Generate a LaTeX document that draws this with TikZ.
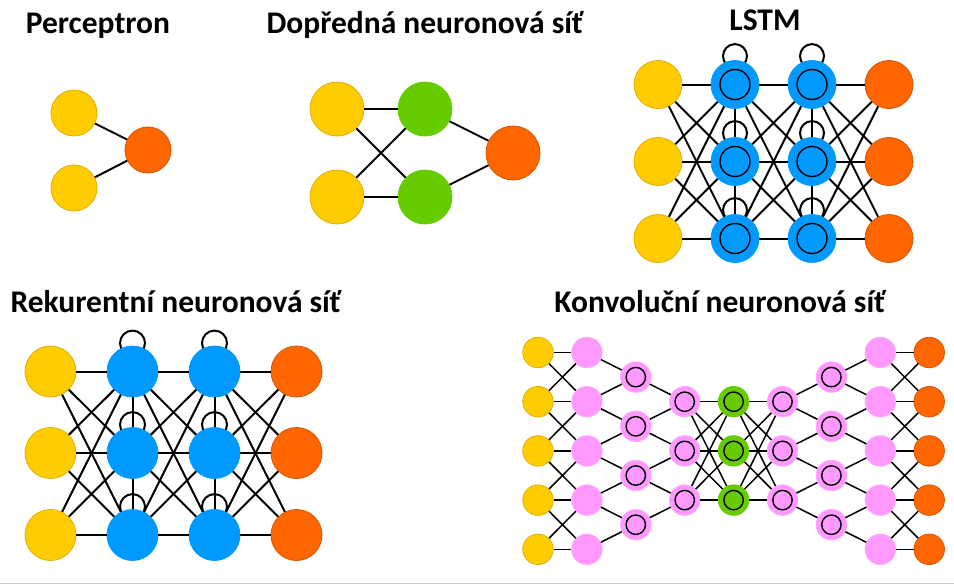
\documentclass[tikz,border=0pt]{standalone}
\usepackage{fontspec}
\setmainfont{Carlito}
\usepackage{tikz}
\usetikzlibrary{backgrounds}

\definecolor{inyellow}{HTML}{FFCC00}
\definecolor{inyellowd}{HTML}{DDB000}
\definecolor{outorange}{HTML}{FF6600}
\definecolor{outoranged}{HTML}{D45500}
\definecolor{hidgreen}{HTML}{66CC00}
\definecolor{recblue}{HTML}{0099FF}
\definecolor{convpink}{HTML}{FF99FF}

\tikzset{
  neuron/.style={circle, inner sep=0pt, minimum size=#1, line width=0.8pt},
  inp/.style={neuron=#1, fill=inyellow, draw=inyellowd},
  outp/.style={neuron=#1, fill=outorange, draw=outoranged},
  hid/.style={neuron=#1, fill=hidgreen, draw=hidgreen},
  rec/.style={neuron=#1, fill=recblue, draw=recblue},
  pinkn/.style={neuron=#1, fill=convpink, draw=convpink!85!white},
  ring/.style={path picture={\draw[draw=black, line width=1.4pt] (path picture bounding box.center) circle (#1);}},
  title/.style={font=\bfseries\fontsize{31.5}{36}\selectfont, anchor=base},
  wire/.style={line width=2pt},
  thinwire/.style={line width=1.5pt},
}

\begin{document}
\begin{tikzpicture}[x=1pt, y=-1pt]
  \useasboundingbox (0,0) rectangle (954,584);

  \node[title] (tperc) at (98,33) {Perceptron};
  \node[title] (tff) at (425,33) {Dopředná neuronová síť};
  \node[title] (tlstm) at (765,30) {LSTM};
  \node[title] (trnn) at (176,312) {Rekurentní neuronová síť};
  \node[title] (tcnn) at (720,312) {Konvoluční neuronová síť};

  % perceptron
  \node[inp=46pt] (p1) at (74,113) {};
  \node[inp=46pt] (p2) at (74,188) {};
  \node[outp=46pt] (po) at (148,150) {};
  \draw[wire] (p1) -- (po);
  \draw[wire] (p2) -- (po);

  % feed forward
  \node[inp=54pt] (f1) at (337,109) {};
  \node[inp=54pt] (f2) at (337,197) {};
  \node[hid=54pt] (g1) at (425,109) {};
  \node[hid=54pt] (g2) at (425,197) {};
  \node[outp=54pt] (fo) at (513,153) {};
  \foreach \a in {1,2} {
    \foreach \b in {1,2}
      \draw[wire] (f\a) -- (g\b);
    \draw[wire] (g\a) -- (fo);
  }

  % LSTM
  \foreach \r/\y in {1/84.5,2/161.5,3/238.5} {
    \node[inp=48pt] (li\r) at (658,\y) {};
    \node[rec=48pt, ring=15pt] (la\r) at (735,\y) {};
    \node[rec=48pt, ring=15pt] (lb\r) at (812,\y) {};
    \node[outp=48pt] (lo\r) at (889,\y) {};
  }
  \begin{scope}[on background layer]
    \foreach \r in {1,2,3} {
      \draw[wire] (la\r.north) ++(0,-4) circle (12pt);
      \draw[wire] (lb\r.north) ++(0,-4) circle (12pt);
    }
  \end{scope}
  \foreach \a in {1,2,3}
    \foreach \b in {1,2,3} {
      \draw[wire] (li\a) -- (la\b);
      \draw[wire] (la\a) -- (lb\b);
      \draw[wire] (lb\a) -- (lo\b);
    }
  \foreach \a/\b in {1/2,2/3} {
    \draw[wire] (la\a) -- (la\b);
    \draw[wire] (lb\a) -- (lb\b);
  }

  % recurrent
  \foreach \r/\y in {1/371.5,2/453,3/535} {
    \node[inp=51pt] (ri\r) at (50.5,\y) {};
    \node[rec=51pt] (ra\r) at (132.5,\y) {};
    \node[rec=51pt] (rb\r) at (214.5,\y) {};
    \node[outp=51pt] (ro\r) at (296.5,\y) {};
  }
  \begin{scope}[on background layer]
    \foreach \r in {1,2,3} {
      \draw[wire] (ra\r.north) ++(0,-2.5) circle (12.5pt);
      \draw[wire] (rb\r.north) ++(0,-2.5) circle (12.5pt);
    }
  \end{scope}
  \foreach \a in {1,2,3}
    \foreach \b in {1,2,3} {
      \draw[wire] (ri\a) -- (ra\b);
      \draw[wire] (ra\a) -- (rb\b);
      \draw[wire] (rb\a) -- (ro\b);
    }
  \foreach \a/\b in {1/2,2/3} {
    \draw[wire] (ra\a) -- (ra\b);
    \draw[wire] (rb\a) -- (rb\b);
  }

  % convolutional
  \foreach \r/\y in {1/352.5,2/401.7,3/450.9,4/500.1,5/549.3} {
    \node[inp=30.5pt] (ca\r) at (538,\y) {};
    \node[pinkn=30.5pt] (cb\r) at (586.9,\y) {};
    \node[pinkn=30.5pt] (ch\r) at (880.3,\y) {};
    \node[outp=30.5pt] (ci\r) at (929.2,\y) {};
  }
  \foreach \r/\y in {1/377.1,2/426.3,3/475.5,4/524.7} {
    \node[pinkn=30.5pt, ring=9.7pt] (cc\r) at (635.8,\y) {};
    \node[pinkn=30.5pt, ring=9.7pt] (cg\r) at (831.4,\y) {};
  }
  \foreach \r/\y in {1/401.7,2/450.9,3/500.1} {
    \node[pinkn=30.5pt, ring=9.7pt] (cd\r) at (684.7,\y) {};
    \node[hid=30.5pt, ring=9.7pt] (ce\r) at (733.6,\y) {};
    \node[pinkn=30.5pt, ring=9.7pt] (cf\r) at (782.5,\y) {};
  }
  \foreach \r in {1,...,5} {
    \draw[thinwire] (ca\r) -- (cb\r);
    \draw[thinwire] (ch\r) -- (ci\r);
  }
  \foreach \a/\b in {1/2,2/3,3/4,4/5} {
    \draw[thinwire] (ca\a) -- (cb\b);
    \draw[thinwire] (ca\b) -- (cb\a);
    \draw[thinwire] (ch\a) -- (ci\b);
    \draw[thinwire] (ch\b) -- (ci\a);
    \draw[thinwire] (cc\a) -- (cb\a);
    \draw[thinwire] (cc\a) -- (cb\b);
    \draw[thinwire] (cg\a) -- (ch\a);
    \draw[thinwire] (cg\a) -- (ch\b);
  }
  \foreach \a/\b in {1/2,2/3,3/4} {
    \draw[thinwire] (cd\a) -- (cc\a);
    \draw[thinwire] (cd\a) -- (cc\b);
    \draw[thinwire] (cf\a) -- (cg\a);
    \draw[thinwire] (cf\a) -- (cg\b);
  }
  \foreach \a in {1,2,3}
    \foreach \b in {1,2,3} {
      \draw[thinwire] (cd\a) -- (ce\b);
      \draw[thinwire] (ce\a) -- (cf\b);
    }

  \draw[black!20, line width=1pt] (0,583) -- (954,583);
\end{tikzpicture}
\end{document}
